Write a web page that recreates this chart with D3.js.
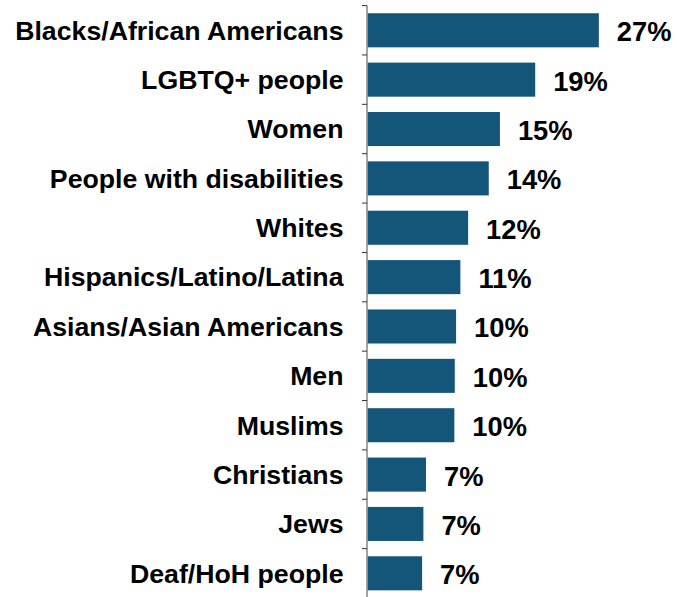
<!DOCTYPE html>
<html lang="en">
<head>
    <meta charset="UTF-8">
    <title>Groups</title>
    <script src="https://d3js.org/d3.v7.min.js"></script>
    <style>
        body { margin: 0; background: #fff; }
        svg { display: block; }
        .label { font-family: "Liberation Sans", Arial, sans-serif; font-weight: bold; fill: #000; }
        .cat { font-size: 26.7px; }
        .val { font-size: 27.3px; }
    </style>
</head>
<body>
<svg id="chart"></svg>
<script>
    const categories = ["Blacks/African Americans", "LGBTQ+ people", "Women", "People with disabilities",
        "Whites", "Hispanics/Latino/Latina", "Asians/Asian Americans", "Men", "Muslims",
        "Christians", "Jews", "Deaf/HoH people"];
    const values = [26.9, 19.5, 15.4, 14.1, 11.7, 10.8, 10.3, 10.15, 10.1, 6.8, 6.5, 6.35];
    const valueLabels = ["27%", "19%", "15%", "14%", "12%", "11%", "10%", "10%", "10%", "7%", "7%", "7%"];

    const width = 677, height = 597;
    const left = 367.5;

    const svg = d3.select("#chart")
        .attr("width", width)
        .attr("height", height);

    const x = d3.scaleLinear().domain([0, 30]).range([left, left + 258]);
    const y = d3.scaleBand().domain(categories).range([5.6, 598])
        .paddingInner(0.31).paddingOuter(0.155);

    svg.append("g")
        .selectAll("rect")
        .data(categories)
        .join("rect")
        .attr("x", x(0))
        .attr("y", d => y(d))
        .attr("width", (d, i) => x(values[i]) - x(0))
        .attr("height", y.bandwidth())
        .attr("fill", "#145679");

    // axis line + ticks between bands
    const step = y.step();
    const bounds = categories.map(c => y(c) - step * y.paddingInner() / 2);
    svg.append("line")
        .attr("x1", x(0) - 0.5).attr("x2", x(0) - 0.5)
        .attr("y1", bounds[0]).attr("y2", height)
        .attr("stroke", "#858585").attr("stroke-width", 1.5);
    svg.append("g")
        .selectAll("line")
        .data(bounds)
        .join("line")
        .attr("x1", x(0) - 5.5).attr("x2", x(0) - 0.5)
        .attr("y1", d => d).attr("y2", d => d)
        .attr("stroke", "#333").attr("stroke-width", 1);

    svg.append("g")
        .selectAll("text")
        .data(categories)
        .join("text")
        .attr("class", "label cat")
        .attr("x", x(0) - 24)
        .attr("y", d => y(d) + y.bandwidth() / 2)
        .attr("dy", "0.35em")
        .attr("text-anchor", "end")
        .text(d => d);

    svg.append("g")
        .selectAll("text")
        .data(categories)
        .join("text")
        .attr("class", "label val")
        .attr("x", (d, i) => x(values[i]) + 18)
        .attr("y", d => y(d) + y.bandwidth() / 2)
        .attr("dy", "0.4em")
        .text((d, i) => valueLabels[i]);
</script>
</body>
</html>
